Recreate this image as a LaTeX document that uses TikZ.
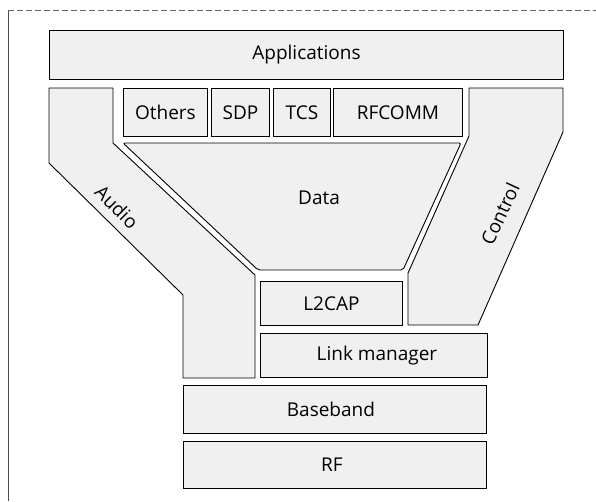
\documentclass[tikz,border=0pt]{standalone}
\usepackage{fontspec}
\setmainfont{Open Sans}
\begin{document}
\begin{tikzpicture}[x=1pt,y=-1pt,
  layer/.style={draw=black,line width=0.9pt,fill=black!6},
  blk/.style={layer,rectangle,inner sep=0pt,anchor=north west},
  lbl/.style={font=\fontsize{19}{22}\selectfont,inner sep=0pt}]
\useasboundingbox (0,0) rectangle (596,501);
% frame
\draw[black!70,line width=0.5pt] (8,501) -- (8,10);
\draw[black!60,line width=0.5pt,dash pattern=on 6pt off 3pt] (8,10) -- (596,10);
% boxes
\node[blk,minimum width=514pt,minimum height=49pt] (app) at (49,30) {};
\node[lbl] at (app.center) {Applications};
\node[blk,minimum width=84pt,minimum height=48pt] (oth) at (123,88) {};
\node[lbl] at (oth.center) {Others};
\node[blk,minimum width=58pt,minimum height=48pt] (sdp) at (211,88) {};
\node[lbl] at (sdp.center) {SDP};
\node[blk,minimum width=57pt,minimum height=48pt] (tcs) at (273,88) {};
\node[lbl] at (tcs.center) {TCS};
\node[blk,minimum width=129pt,minimum height=48pt] (rfc) at (333,88) {};
\node[lbl] at (rfc.center) {RFCOMM};
% audio
\draw[layer,line join=round] (49,88) -- (113,88) -- (113,143) -- (255,275) -- (255,378) -- (183,378) -- (183,295) -- (49,163) -- cycle;
\node[lbl,rotate=-45] (audio) at (117,207) {Audio};
% data
\draw[layer,line join=round,rounded corners=2pt] (123,143) -- (461,143) -- (403,270) -- (258,270) -- cycle;
\node[lbl] (data) at (319,198) {Data};
% control
\draw[layer,line join=round] (469,88) -- (563,88) -- (563,132) -- (478,325) -- (408,325) -- (408,273) -- (469,136) -- cycle;
\node[lbl,rotate=65] (ctrl) at (500,214) {Control};
% lower stack
\node[blk,minimum width=142pt,minimum height=44pt] (l2) at (260,281) {};
\node[lbl] at (l2.center) {L2CAP};
\node[blk,minimum width=227pt,minimum height=44pt] (lm) at (260,333) {};
\node[lbl] at ([xshift=3pt]lm.center) {Link manager};
\node[blk,minimum width=303pt,minimum height=48pt] (bb) at (183,385) {};
\node[lbl] at ([xshift=-4pt]bb.center) {Baseband};
\node[blk,minimum width=303pt,minimum height=47pt] (rf) at (183,441) {};
\node[lbl] at ([xshift=-3pt]rf.center) {RF};
\end{tikzpicture}
\end{document}
